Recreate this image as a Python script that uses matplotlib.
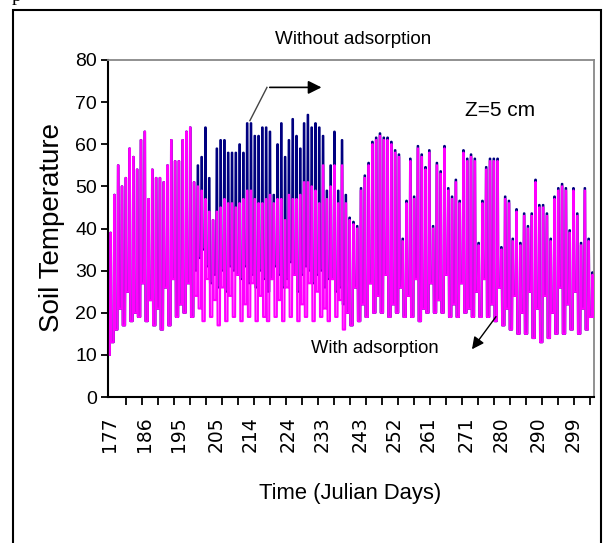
import matplotlib
matplotlib.use('Agg')
import matplotlib.pyplot as plt
import numpy as np
from matplotlib.lines import Line2D
from matplotlib.patches import Rectangle

# Daily soil temperature extremes at Z = 5 cm
days = np.arange(177, 305)

# with adsorption (magenta): daily maxima / minima
mag_hi = [39, 48, 55, 50, 52, 59, 57, 54, 61, 63,
          47, 54, 52, 52, 51, 55, 61, 56, 56, 61,
          63, 64, 51, 50, 49, 47, 44, 42, 44, 45,
          47, 46, 46, 45, 46, 47, 49, 49, 47, 46,
          46, 47, 48, 46, 47, 47, 42, 48, 47, 47,
          48, 51, 51, 50, 49, 46, 55, 47, 50, 55,
          46, 55, 46, 42, 41, 40, 49, 52, 55, 60,
          61, 62, 61, 61, 60, 58, 57, 37, 46, 56,
          47, 59, 57, 54, 58, 40, 55, 53, 59, 49,
          47, 51, 46, 58, 56, 57, 56, 36, 46, 54,
          56, 56, 56, 35, 47, 46, 37, 44, 36, 43,
          40, 43, 51, 45, 45, 43, 37, 47, 49, 50,
          49, 39, 49, 43, 36, 49, 37, 29]
mag_lo = [10, 13, 16, 21, 17, 25, 18, 20, 19, 27,
          18, 23, 17, 21, 16, 26, 17, 28, 19, 22,
          20, 27, 19, 24, 21, 18, 28, 19, 23, 17,
          26, 18, 24, 19, 29, 18, 22, 19, 27, 18,
          24, 19, 18, 28, 19, 23, 18, 26, 19, 29,
          18, 22, 19, 27, 18, 25, 19, 21, 18, 28,
          19, 23, 16, 20, 17, 26, 18, 22, 19, 27,
          20, 24, 20, 29, 19, 22, 20, 26, 19, 24,
          19, 28, 18, 21, 20, 27, 20, 23, 20, 29,
          19, 22, 19, 27, 20, 21, 19, 25, 19, 28,
          19, 22, 18, 26, 17, 21, 16, 24, 15, 20,
          15, 25, 14, 21, 13, 24, 14, 20, 15, 26,
          15, 22, 16, 25, 15, 21, 16, 19]

# without adsorption (navy): daily maxima / minima
nav_hi = [39, 48, 55, 50, 52, 59, 57, 54, 61, 63,
          47, 54, 52, 52, 51, 55, 61, 56, 56, 61,
          63, 64, 51, 55, 57, 64, 52, 42, 59, 61,
          61, 58, 58, 58, 60, 58, 65, 65, 62, 62,
          64, 64, 63, 48, 60, 65, 57, 61, 66, 62,
          59, 65, 67, 64, 65, 64, 62, 49, 55, 63,
          49, 61, 48, 42.6, 41.6, 40.6, 49.6, 52.6, 55.6, 60.6,
          61.6, 62.6, 61.6, 61.6, 60.6, 58.6, 57.6, 37.6, 46.6, 56.6,
          47.6, 59.6, 57.6, 54.6, 58.6, 40.6, 55.6, 53.6, 59.6, 49.6,
          47.6, 51.6, 46.6, 58.6, 56.6, 57.6, 56.6, 36.6, 46.6, 54.6,
          56.6, 56.6, 56.6, 35.6, 47.6, 46.6, 37.6, 44.6, 36.6, 43.6,
          40.6, 43.6, 51.6, 45.6, 45.6, 43.6, 37.6, 47.6, 49.6, 50.6,
          49.6, 39.6, 49.6, 43.6, 36.6, 49.6, 37.6, 29.6]
nav_lo = [10, 13, 16, 21, 17, 25, 18, 20, 19, 27,
          18, 23, 17, 21, 16, 26, 17, 28, 19, 22,
          20, 27, 19, 30, 33, 35, 31, 27, 29, 26,
          30, 25, 31, 30, 29, 28, 31, 27, 29, 26,
          30, 28, 25, 28, 31, 29, 26, 28, 32, 29,
          25, 29, 31, 30, 27, 29, 30, 26, 28, 28,
          25, 26, 22, 20, 17, 26, 18, 22, 19, 27,
          20, 24, 20, 29, 19, 22, 20, 26, 19, 24,
          19, 28, 18, 21, 20, 27, 20, 23, 20, 29,
          19, 22, 19, 27, 20, 21, 19, 25, 19, 28,
          19, 22, 18, 26, 17, 21, 16, 24, 15, 20,
          15, 25, 14, 21, 13, 24, 14, 20, 15, 26,
          15, 22, 16, 25, 15, 21, 16, 19]

tick_days = [177, 186, 195, 205, 214, 224, 233, 243, 252, 261, 271, 280, 290, 299]
y_ticks = [0, 10, 20, 30, 40, 50, 60, 70, 80]


def daily_curve(lo, hi):
    # morning minimum, steep rise, short afternoon plateau, quick fall to the night minimum
    lo = np.asarray(lo, float)
    hi = np.asarray(hi, float)
    lo_next = np.append(lo[1:], lo[-1])
    x = np.column_stack([days, days + 0.12, days + 0.26, days + 0.38]).ravel()
    y = np.column_stack([lo, hi, hi, lo_next]).ravel()
    return x, y


W, H = 603, 543
fig = plt.figure(figsize=(W / 100, H / 100), dpi=100)
ax = fig.add_axes([108 / W, 1 - 397 / H, (594 - 108) / W, (397 - 60) / H])

x_nav, y_nav = daily_curve(nav_lo, nav_hi)
x_mag, y_mag = daily_curve(mag_lo, mag_hi)
ax.plot(x_nav, y_nav, color='#000080', lw=1.5, zorder=2)
ax.plot(x_mag, y_mag, color='#FF00FF', lw=1.5, zorder=3)

ax.set_xlim(176.5, 304.6)
ax.set_ylim(0, 80)
ax.set_yticks(y_ticks)
ax.set_yticklabels([str(v) for v in y_ticks], fontsize=14, family='Liberation Sans')
ax.set_xticks(tick_days)
ax.set_xticklabels([str(d) for d in tick_days], rotation=90, fontsize=13.5,
                   family='DejaVu Sans')
ax.set_xticks(np.arange(177, 305, 4.22), minor=True)
ax.tick_params(axis='x', which='major', length=0, pad=14)
ax.tick_params(axis='x', which='minor', length=6, width=1.3, direction='out')
ax.tick_params(axis='y', length=5, width=1.3, pad=3)

for side in ['left', 'bottom']:
    ax.spines[side].set_linewidth(1.5)
    ax.spines[side].set_color('black')
for side in ['top', 'right']:
    ax.spines[side].set_linewidth(1.3)
    ax.spines[side].set_color('#888888')

# annotations
ax.annotate('', xy=(233.5, 73.5), xytext=(218.4, 73.5),
            arrowprops=dict(arrowstyle='-|>', color='black', lw=1.2,
                            mutation_scale=20))
ax.add_line(Line2D([213.9, 218.4], [65.6, 73.5], color='#444444', lw=1.0))
ax.annotate('', xy=(272.0, 10.8), xytext=(279.2, 19.6),
            arrowprops=dict(arrowstyle='-|>', color='black', lw=1.0,
                            mutation_scale=18))
ax.text(279.8, 68, 'Z=5 cm', fontsize=15, family='Liberation Sans',
        ha='center', va='center')
ax.text(246.8, 11.4, 'With adsorption', fontsize=13.2, family='Liberation Sans',
        ha='center', va='center')

fig.text(353 / W, 1 - 40 / H, 'Without adsorption', fontsize=13.6,
         family='Liberation Sans', ha='center', va='center')
fig.text(350 / W, 1 - 494 / H, 'Time (Julian Days)', fontsize=15.8,
         family='Liberation Sans', ha='center', va='center')
fig.text(52 / W, 1 - 228 / H, 'Soil Temperature', fontsize=20,
         family='Liberation Sans', rotation=90, ha='center', va='center')

# outer frame and the caption fragment above it
fig.patches.append(Rectangle((13 / W, -0.05), (601 - 13) / W, 1 - 10 / H + 0.05,
                             transform=fig.transFigure, fill=False,
                             edgecolor='black', lw=1.5))
fig.text(12 / W, 1 - 1 / H, 'p', fontsize=14, family='Liberation Serif',
         ha='left', va='baseline')

fig.savefig('out.png', dpi=100)
